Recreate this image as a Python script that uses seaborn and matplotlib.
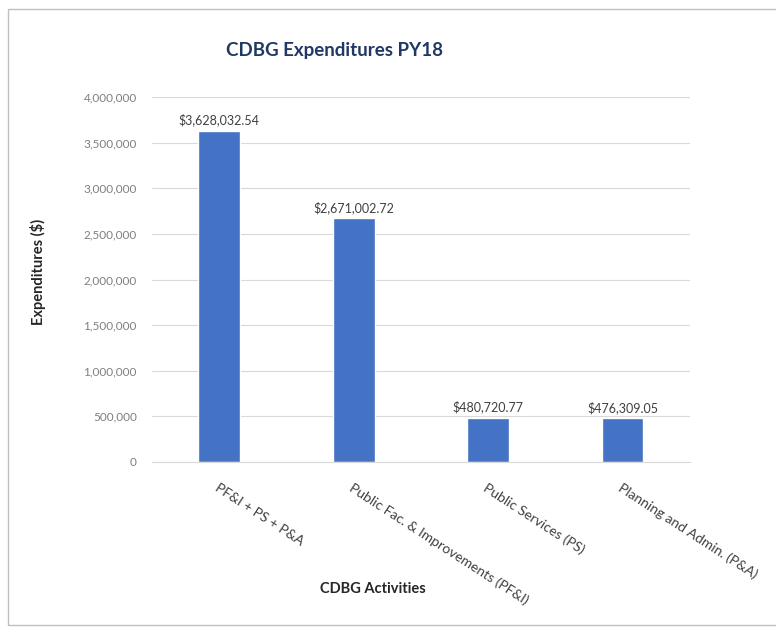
import pandas as pd
import matplotlib.pyplot as plt
import seaborn as sns
from matplotlib.patches import Rectangle
from matplotlib.ticker import FuncFormatter

# data
activities = ['PF&I + PS + P&A', 'Public Fac. & Improvements (PF&I)',
              'Public Services (PS)', 'Planning and Admin. (P&A)']
expenditures = [3628032.54, 2671002.72, 480720.77, 476309.05]

df = pd.DataFrame({'activity': activities, 'amount': expenditures})

sns.set_style('white')
plt.rcParams['font.family'] = ['Lato', 'DejaVu Sans']

fig = plt.figure(figsize=(7.76, 6.31), dpi=100)
ax = fig.add_axes([0.196, 0.268, 0.693, 0.578])

sns.barplot(data=df, x='activity', y='amount', color='#4472C4',
            width=0.31, saturation=1, ax=ax)

ax.set_xlim(-0.5, 3.5)
ax.set_ylim(0, 4000000)
ax.set_yticks(range(0, 4000001, 500000))
ax.yaxis.set_major_formatter(FuncFormatter(lambda v, p: f'{int(v):,}'))
ax.grid(axis='y', color='#d9d9d9', linewidth=0.8)
ax.set_axisbelow(True)
for s in ['top', 'right', 'left']:
    ax.spines[s].set_visible(False)
ax.spines['bottom'].set_color('#d9d9d9')
ax.tick_params(axis='y', labelsize=8.5, colors='#7f7f7f', length=0, pad=11)
ax.tick_params(axis='x', labelsize=10, colors='#404040', length=0, pad=14)
plt.setp(ax.get_xticklabels(), rotation=-33, ha='left', rotation_mode='anchor')

# value labels
for i, v in enumerate(expenditures):
    ax.text(i, v + 50000, f'${v:,.2f}', ha='center', va='bottom',
            fontsize=9, color='#404040')

ax.set_title('CDBG Expenditures PY18', fontsize=13.5, fontweight='bold',
             color='#1f3864', pad=30, x=0.34)
ax.set_ylabel('Expenditures ($)', fontsize=10.5, fontweight='bold', color='#262626')
ax.yaxis.set_label_coords(-0.197, 0.52)
ax.set_xlabel('CDBG Activities', fontsize=10.5, fontweight='bold', color='#262626')
ax.xaxis.set_label_coords(0.41, -0.33)

fig.patches.append(Rectangle((0.01, 0.01), 1.2, 0.975, transform=fig.transFigure,
                             fill=False, edgecolor='#bfbfbf', linewidth=1))

fig.savefig('out.png', dpi=100)
